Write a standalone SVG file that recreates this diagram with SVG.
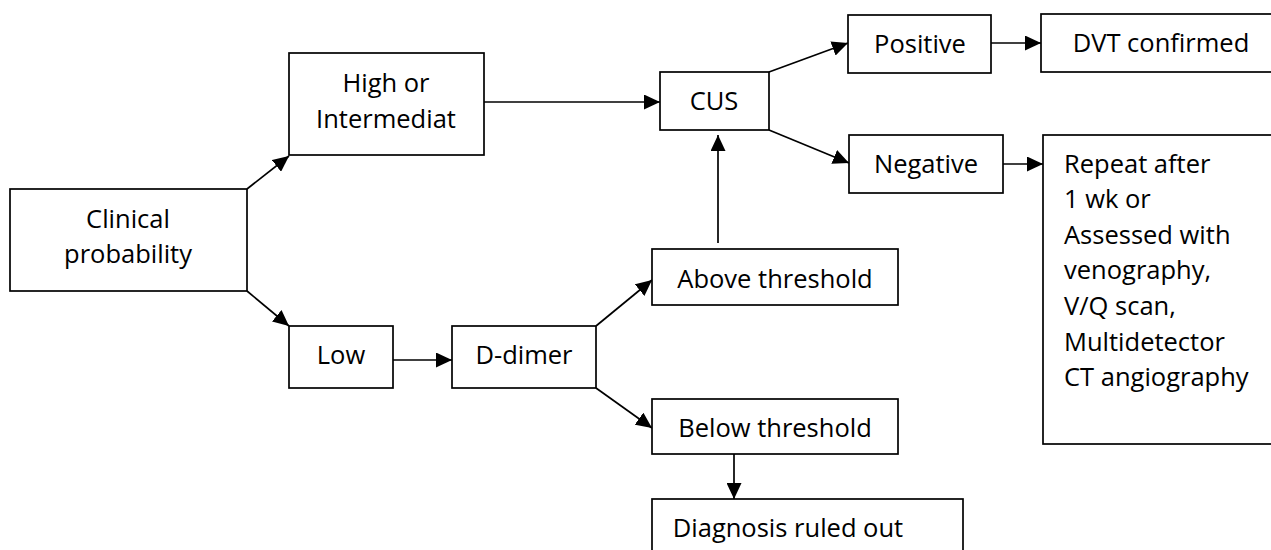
<svg xmlns="http://www.w3.org/2000/svg" width="1271" height="550" viewBox="0 0 1271 550">
<style>
.box{fill:#fff;stroke:#000;stroke-width:1.7}
.t{font-family:"Open Sans","Liberation Sans",Arial,sans-serif;font-size:25.5px;fill:#000;text-anchor:middle}
.l{text-anchor:start}
.c{stroke:#000;stroke-width:1.7;fill:none;marker-end:url(#ah)}
</style>
<defs>
<marker id="ah" markerUnits="userSpaceOnUse" markerWidth="16" markerHeight="15" refX="16" refY="7.5" orient="auto">
<path d="M0,0 L16,7.5 L0,15 z" fill="#000"/>
</marker>
</defs>
<rect width="1271" height="550" fill="#fff"/>
<g id="connectors">
<line class="c" x1="247" y1="189" x2="289" y2="156"/>
<line class="c" x1="247" y1="291" x2="289" y2="326"/>
<line class="c" x1="484" y1="102" x2="660" y2="102"/>
<line class="c" x1="718" y1="243" x2="718" y2="135"/>
<line class="c" x1="769" y1="72" x2="848" y2="43"/>
<line class="c" x1="769" y1="130" x2="849" y2="163"/>
<line class="c" x1="991" y1="43" x2="1041" y2="43"/>
<line class="c" x1="1003" y1="164" x2="1043" y2="164"/>
<line class="c" x1="393" y1="360" x2="452" y2="360"/>
<line class="c" x1="596" y1="326" x2="652" y2="280"/>
<line class="c" x1="596" y1="388" x2="652" y2="428"/>
<line class="c" x1="734" y1="454" x2="734" y2="499"/>
</g>
<g id="clinical"><rect class="box" x="10" y="189" width="237" height="102"/><text class="t" x="128" y="228">Clinical</text><text class="t" x="128" y="263">probability</text></g>
<g id="high"><rect class="box" x="289" y="53" width="195" height="102"/><text class="t" x="386" y="92">High or</text><text class="t" x="386" y="128">Intermediat</text></g>
<g id="low"><rect class="box" x="289" y="326" width="104" height="62"/><text class="t" x="341" y="364">Low</text></g>
<g id="ddimer"><rect class="box" x="452" y="326" width="144" height="62"/><text class="t" x="524" y="364">D-dimer</text></g>
<g id="cus"><rect class="box" x="660" y="72" width="109" height="58"/><text class="t" x="714" y="110">CUS</text></g>
<g id="above"><rect class="box" x="652" y="249" width="246" height="56"/><text class="t" x="775" y="288">Above threshold</text></g>
<g id="below"><rect class="box" x="652" y="399" width="246" height="55"/><text class="t" x="775" y="437">Below threshold</text></g>
<g id="diagnosis"><rect class="box" x="652" y="499" width="311" height="70"/><text class="t" x="788" y="537">Diagnosis ruled out</text></g>
<g id="positive"><rect class="box" x="848" y="15" width="143" height="58"/><text class="t" x="920" y="53">Positive</text></g>
<g id="negative"><rect class="box" x="849" y="135" width="154" height="58"/><text class="t" x="926" y="173">Negative</text></g>
<g id="dvt"><rect class="box" x="1041" y="14" width="240" height="58"/><text class="t" x="1161" y="52">DVT confirmed</text></g>
<g id="repeat"><rect class="box" x="1043" y="135" width="240" height="309"/>
<text class="t l" x="1064" y="173">Repeat after</text>
<text class="t l" x="1064" y="208">1 wk or</text>
<text class="t l" x="1064" y="244">Assessed with</text>
<text class="t l" x="1064" y="279">venography,</text>
<text class="t l" x="1064" y="315">V/Q scan,</text>
<text class="t l" x="1064" y="351">Multidetector</text>
<text class="t l" x="1064" y="386">CT angiography</text>
</g>
</svg>
